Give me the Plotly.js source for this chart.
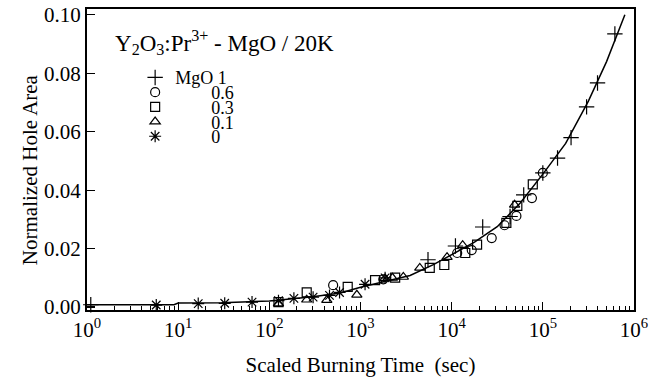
<!DOCTYPE html>
<html>
<head>
<meta charset="utf-8">
<script src="https://cdn.plot.ly/plotly-3.0.1.min.js"></script>
<style>
  html, body { margin: 0; padding: 0; background: #fff; }
  #chart { width: 659px; height: 384px; }
</style>
</head>
<body>
<div id="chart"></div>
<script>
// Normalized hole area vs scaled burning time, Y2O3:Pr3+ with MgO fractions at 20 K
const mgo1_t   = [1.1, 5500, 11000, 21900, 43700, 61700, 100000, 145000, 204000, 302000, 398000, 617000];
const mgo1_a   = [0.0008, 0.0162, 0.0209, 0.0274, 0.0310, 0.0384, 0.0459, 0.0510, 0.0580, 0.0685, 0.0767, 0.0935];

const mgo06_t  = [501, 1778, 11500, 16600, 27500, 38000, 51300, 75900, 100000];
const mgo06_a  = [0.0075, 0.0095, 0.0185, 0.0195, 0.0236, 0.0280, 0.0312, 0.0373, 0.0459];

const mgo03_t  = [126, 257, 724, 1445, 2400, 5750, 8300, 14100, 19000, 39800, 52500, 77600];
const mgo03_a  = [0.0017, 0.0050, 0.0069, 0.0092, 0.0101, 0.0134, 0.0144, 0.0185, 0.0214, 0.0288, 0.0346, 0.0420];

const mgo01_t  = [126, 257, 427, 912, 1862, 2240, 2950, 4470, 8900, 13200, 49000];
const mgo01_a  = [0.0012, 0.0025, 0.0024, 0.0042, 0.0098, 0.0100, 0.0103, 0.0134, 0.0171, 0.0212, 0.0350];

const mgo0_t   = [5.75, 16.6, 32.4, 64.6, 126, 186, 302, 457, 589, 1122, 1862];
const mgo0_a   = [0.0007, 0.0012, 0.0013, 0.0017, 0.0022, 0.0030, 0.0034, 0.0040, 0.0050, 0.0078, 0.0100];

// fitted curve
const fit_t    = [1, 9, 10, 30, 100, 300, 600, 1000, 2000, 3500, 6300, 10000, 17800, 31600, 56200, 100000, 178000, 316000, 500000, 794000];
const fit_a    = [0.0008, 0.0008, 0.0014, 0.0015, 0.0021, 0.0035, 0.0048, 0.0068, 0.0090, 0.0108, 0.0145, 0.0180, 0.0222, 0.0275, 0.0355, 0.0455, 0.0560, 0.0705, 0.0840, 0.1000];

const PAD = '\u00A0'.repeat(8);
const seriesNames = ['MgO 1', PAD + '0.6', PAD + '0.3', PAD + '0.1', PAD + '0'];
const xTickVals = [1, 10, 100, 1000, 10000, 100000, 1000000];
const xTickText = ['10<sup>0</sup>', '10<sup>1</sup>', '10<sup>2</sup>', '10<sup>3</sup>', '10<sup>4</sup>', '10<sup>5</sup>', '10<sup>6</sup>'];

const FONT = 'Liberation Serif, Times New Roman, serif';
const LEGEND_ROW = 14.7;   // tight row pitch of the key

// minor log ticks 2..9 within each decade
const minorVals = [];
for (let d = 0; d < 6; d++) {
  for (let k = 2; k <= 9; k++) minorVals.push(k * Math.pow(10, d));
}

function pts(x, y, name, symbol, size) {
  return {
    x: x, y: y, name: name, type: 'scatter', mode: 'markers',
    marker: { symbol: symbol, size: size, color: '#000', line: { color: '#000', width: 1.2 } },
    cliponaxis: false
  };
}

const traces = [
  pts(mgo1_t, mgo1_a, seriesNames[0], 'cross-thin-open', 11),
  pts(mgo06_t, mgo06_a, seriesNames[1], 'circle-open', 9),
  pts(mgo03_t, mgo03_a, seriesNames[2], 'square-open', 9),
  pts(mgo01_t, mgo01_a, seriesNames[3], 'triangle-up-open', 9),
  pts(mgo0_t, mgo0_a, seriesNames[4], 'asterisk-open', 10),
  {
    x: fit_t, y: fit_a, type: 'scatter', mode: 'lines', showlegend: false,
    line: { color: '#000', width: 1.5 }
  }
];

const layout = {
  width: 659, height: 384,
  margin: { l: 87, r: 25, t: 9, b: 74 },
  paper_bgcolor: '#fff', plot_bgcolor: '#fff',
  font: { family: FONT, size: 21, color: '#000' },
  showlegend: true,
  legend: {
    x: 0.088, y: 0.833, xanchor: 'left', yanchor: 'top',
    bgcolor: 'rgba(0,0,0,0)', borderwidth: 0,
    font: { family: FONT, size: 18, color: '#000' },
    itemwidth: 30, tracegroupgap: 0
  },
  xaxis: {
    type: 'log', range: [0, 6],
    showline: true, linewidth: 2, linecolor: '#000', mirror: true,
    ticks: 'inside', ticklen: 8, tickwidth: 1.2, tickcolor: '#000',
    tickvals: xTickVals, ticktext: xTickText,
    tickfont: { family: FONT, size: 21 },
    minor: { tickvals: minorVals, ticks: 'inside', ticklen: 4, tickwidth: 1, tickcolor: '#000', showgrid: false },
    showgrid: false, zeroline: false,
    title: { text: 'Scaled Burning Time\u00A0\u00A0(sec)', font: { family: FONT, size: 21 }, standoff: 16 }
  },
  yaxis: {
    range: [-0.001, 0.102],
    showline: true, linewidth: 2, linecolor: '#000', mirror: true,
    ticks: 'inside', ticklen: 8, tickwidth: 1.2, tickcolor: '#000',
    tick0: 0, dtick: 0.02, tickformat: '.2f',
    tickfont: { family: FONT, size: 21 },
    showgrid: false, zeroline: false
  },
  annotations: [
    {
      xref: 'paper', yref: 'paper', x: 0.048, y: 0.89, xanchor: 'left', yanchor: 'middle',
      text: 'Y<sub>2</sub>O<sub>3</sub>:Pr<sup>3+</sup> - MgO / 20K',
      showarrow: false, font: { family: FONT, size: 23, color: '#000' }
    },
    {
      xref: 'paper', yref: 'paper', x: -0.104, y: 0.465, xanchor: 'center', yanchor: 'middle',
      text: 'Normalized Hole Area', textangle: -90,
      showarrow: false, font: { family: FONT, size: 21, color: '#000' }
    }
  ]
};

Plotly.newPlot('chart', traces, layout, { staticPlot: true, displayModeBar: false }).then(function (gd) {
  // pack the key rows closer than Plotly's default entry height
  const rows = gd.querySelectorAll('.legend .traces');
  if (!rows.length) return;
  const m = /translate\(\s*([-\d.]+)[ ,]+([-\d.]+)/.exec(rows[0].getAttribute('transform') || '');
  const x0 = m ? parseFloat(m[1]) : 0;
  const y0 = m ? parseFloat(m[2]) : 0;
  rows.forEach(function (el, i) {
    el.setAttribute('transform', 'translate(' + x0 + ',' + (y0 + i * LEGEND_ROW) + ')');
  });
});
</script>
</body>
</html>
